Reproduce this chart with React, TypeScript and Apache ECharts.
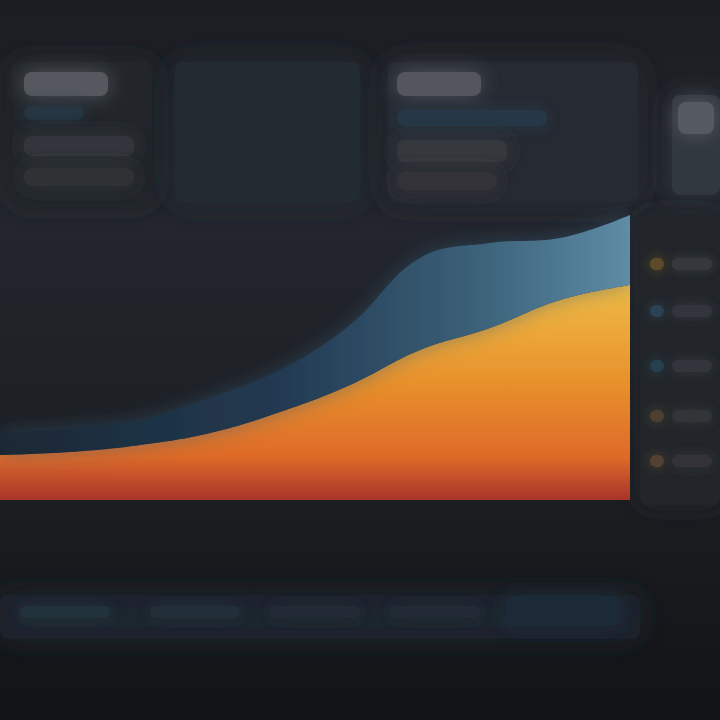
import React, { useEffect, useRef } from "react";
import * as echarts from "echarts";

const categories = ["P1", "P2", "P3", "P4", "P5", "P6", "P7", "P8", "P9", "P10"];
const lowerSeries = [45, 48, 55, 67, 88, 115, 150, 172, 200, 215];
const upperSeries = [22, 24, 25, 35, 42, 60, 92, 85, 62, 70];
const seriesNames = ["Series A", "Series B"];

export default function App() {
  const ref = useRef<HTMLDivElement>(null);
  useEffect(() => {
    if (!ref.current) return;
    const chart = echarts.init(ref.current, null, { renderer: "svg" });
    const blob = (x: number, y: number, w: number, h: number, fill: string, blur = 16, opacity = 1) => ({
      type: "rect",
      z: -5,
      shape: { x, y, width: w, height: h, r: 8 },
      style: { fill, opacity, shadowBlur: blur, shadowColor: fill },
      silent: true,
    });
    chart.setOption({
      animation: false,
      backgroundColor: "#1c1e23",
      grid: { left: 0, right: 90, top: 200, bottom: 220 },
      xAxis: {
        type: "category",
        data: categories,
        boundaryGap: false,
        axisLine: { show: false },
        axisTick: { show: false },
        axisLabel: { show: false },
        splitLine: { show: false },
      },
      yAxis: {
        type: "value",
        min: 0,
        max: 300,
        show: false,
        splitLine: { show: false },
      },
      graphic: [
        {
          type: "rect",
          z: -10,
          shape: { x: 0, y: 0, width: 720, height: 720 },
          style: {
            fill: new echarts.graphic.LinearGradient(0, 0, 0, 1, [
              { offset: 0, color: "#1b1d22" },
              { offset: 0.3, color: "#23262d" },
              { offset: 0.7, color: "#1b1d21" },
              { offset: 1, color: "#121316" },
            ]),
          },
          silent: true,
        },
        // top cards
        blob(12, 62, 140, 140, "#23262c", 28),
        blob(24, 72, 84, 24, "#55585f", 20),
        blob(24, 106, 60, 14, "#253443", 16),
        blob(24, 136, 110, 20, "#33353b", 20),
        blob(24, 168, 110, 18, "#2e3036", 20),
        blob(175, 62, 185, 140, "#242932", 30),
        blob(388, 62, 250, 140, "#252a32", 30),
        blob(397, 72, 84, 24, "#52565f", 20),
        blob(397, 110, 150, 16, "#283847", 16),
        blob(397, 140, 110, 22, "#35373d", 20),
        blob(397, 172, 100, 18, "#303238", 20),
        blob(672, 95, 48, 100, "#33383f", 26),
        blob(678, 102, 36, 32, "#555a62", 18),
        // right legend
        blob(640, 215, 80, 290, "#23262c", 24),
        blob(650, 258, 14, 12, "#5e4c2c", 12),
        blob(672, 258, 40, 12, "#35383e", 12),
        blob(650, 305, 14, 12, "#2a4252", 12),
        blob(672, 305, 40, 12, "#33363c", 12),
        blob(650, 360, 14, 12, "#283f50", 12),
        blob(672, 360, 40, 12, "#32353b", 12),
        blob(650, 410, 14, 12, "#4e4030", 12),
        blob(672, 410, 40, 12, "#313439", 12),
        blob(650, 455, 14, 12, "#524230", 12),
        blob(672, 455, 40, 12, "#303338", 12),
        // bottom axis band
        blob(0, 595, 640, 44, "#1d252d", 30, 0.9),
        blob(20, 606, 90, 12, "#22303a", 16),
        blob(150, 606, 90, 12, "#212d37", 16),
        blob(270, 606, 90, 12, "#222b35", 16),
        blob(390, 606, 90, 12, "#212b35", 16),
        blob(505, 596, 115, 30, "#1f2c38", 20),
      ],
      series: [
        {
          name: seriesNames[0],
          type: "line",
          stack: "total",
          data: lowerSeries,
          smooth: 0.4,
          symbol: "none",
          lineStyle: { width: 0 },
          areaStyle: {
            opacity: 1,
            color: new echarts.graphic.LinearGradient(0, 0, 0, 1, [
              { offset: 0, color: "#efbb45" },
              { offset: 0.45, color: "#e8912c" },
              { offset: 0.8, color: "#de6a28" },
              { offset: 1, color: "#a8342c" },
            ]),
            shadowBlur: 14,
            shadowColor: "rgba(232,140,40,0.45)",
          },
        },
        {
          name: seriesNames[1],
          type: "line",
          stack: "total",
          data: upperSeries,
          smooth: 0.4,
          symbol: "none",
          lineStyle: { width: 0 },
          areaStyle: {
            opacity: 1,
            color: new echarts.graphic.LinearGradient(0, 0, 1, 0, [
              { offset: 0, color: "#1a2834" },
              { offset: 0.45, color: "#223a52" },
              { offset: 0.75, color: "#3a6078" },
              { offset: 1, color: "#5f8ca6" },
            ]),
            shadowBlur: 20,
            shadowColor: "rgba(50,90,120,0.5)",
          },
        },
      ],
    });
    return () => chart.dispose();
  }, []);
  return (
    <div
      ref={ref}
      style={{ position: "absolute", left: 0, top: 0, width: 720, height: 720 }}
    />
  );
}
